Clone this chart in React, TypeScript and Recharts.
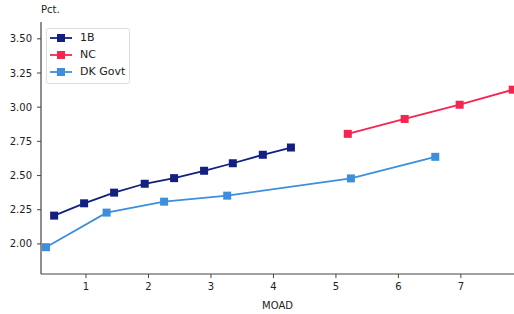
import React from 'react';
import { LineChart, Line, XAxis, YAxis, Legend } from 'recharts';

// MOAD (x) vs yield in pct. (y)
const moad1B = [0.49, 0.97, 1.45, 1.94, 2.41, 2.89, 3.35, 3.83, 4.28];
const yield1B = [2.207, 2.297, 2.375, 2.44, 2.481, 2.535, 2.59, 2.652, 2.705];

const moadNC = [5.19, 6.1, 6.98, 7.83];
const yieldNC = [2.805, 2.914, 3.018, 3.128];

const moadDK = [0.36, 1.33, 2.25, 3.26, 5.24, 6.59];
const yieldDK = [1.976, 2.229, 2.309, 2.353, 2.479, 2.637];

const xTicks = [1, 2, 3, 4, 5, 6, 7];
const yTicks = [2.0, 2.25, 2.5, 2.75, 3.0, 3.25, 3.5];

const seriesNames = ['1B', 'NC', 'DK Govt'];
const seriesColors = ['#14207f', '#f5254f', '#3d8fdd'];

const toRows = (xs: number[], ys: number[]) => xs.map((x, i) => ({ x, y: ys[i] }));

const data1B = toRows(moad1B, yield1B);
const dataNC = toRows(moadNC, yieldNC);
const dataDK = toRows(moadDK, yieldDK);

const FONT = '"DejaVu Sans", sans-serif';
const AXIS = '#444';

const squareDot = (color: string) => (props: any) => {
  const { cx, cy, index } = props;
  if (cx == null || cy == null) return <g key={index} />;
  return <rect key={index} x={cx - 4} y={cy - 4} width={8} height={8} fill={color} />;
};

const LegendBox = () => (
  <div
    style={{
      border: '1px solid #ddd',
      borderRadius: 3,
      background: 'rgba(255,255,255,0.8)',
      padding: '0px 4px 3px 3px',
      fontFamily: FONT,
      fontSize: 11,
      color: '#222',
    }}
  >
    {seriesNames.map((name, i) => (
      <div key={name} style={{ display: 'flex', alignItems: 'center', height: 17 }}>
        <svg width={22} height={10} style={{ marginRight: 8 }}>
          <line x1={0} y1={5} x2={22} y2={5} stroke={seriesColors[i]} strokeWidth={1.8} />
          <rect x={7} y={1} width={8} height={8} fill={seriesColors[i]} />
        </svg>
        <span>{name}</span>
      </div>
    ))}
  </div>
);

export default function App() {
  return (
    <div style={{ position: 'absolute', left: 0, top: 0, width: 514, height: 314 }}>
      <LineChart width={514} height={314} margin={{ top: 22, right: 0, left: 0, bottom: 0 }}>
        <XAxis
          dataKey="x"
          type="number"
          domain={[0.28, 7.85]}
          allowDataOverflow
          ticks={xTicks}
          height={40}
          axisLine={{ stroke: AXIS, strokeWidth: 1.2 }}
          tickLine={{ stroke: AXIS }}
          tickSize={4}
          tickMargin={5}
          tick={{ fill: '#222', fontSize: 10, fontFamily: FONT }}
          label={{ value: 'MOAD', position: 'insideBottom', offset: 5, fill: '#222', fontSize: 10, fontFamily: FONT }}
        />
        <XAxis
          xAxisId="top"
          orientation="top"
          type="number"
          domain={[0, 1]}
          height={0}
          tick={false}
          tickLine={false}
          axisLine={{ stroke: AXIS, strokeWidth: 1.2 }}
        />
        <YAxis
          type="number"
          domain={[1.78, 3.623]}
          allowDataOverflow
          ticks={yTicks}
          width={41}
          axisLine={{ stroke: AXIS, strokeWidth: 1.2 }}
          tickLine={{ stroke: AXIS }}
          tickSize={4}
          tickMargin={5}
          tickFormatter={(v: number) => v.toFixed(2)}
          tick={{ fill: '#222', fontSize: 10, fontFamily: FONT }}
        />
        <Legend
          layout="vertical"
          verticalAlign="middle"
          align="center"
          content={() => <LegendBox />}
          wrapperStyle={{ position: 'absolute', left: 46, top: 28, width: 'auto', height: 'auto' }}
        />
        <Line data={data1B} dataKey="y" name="1B" stroke={seriesColors[0]} strokeWidth={1.8} dot={squareDot(seriesColors[0])} activeDot={false} isAnimationActive={false} />
        <Line data={dataNC} dataKey="y" name="NC" stroke={seriesColors[1]} strokeWidth={1.8} dot={squareDot(seriesColors[1])} activeDot={false} isAnimationActive={false} />
        <Line data={dataDK} dataKey="y" name="DK Govt" stroke={seriesColors[2]} strokeWidth={1.8} dot={squareDot(seriesColors[2])} activeDot={false} isAnimationActive={false} />
      </LineChart>
      <div style={{ position: 'absolute', left: 41, top: 4, fontFamily: FONT, fontSize: 10, color: '#222' }}>Pct.</div>
    </div>
  );
}
